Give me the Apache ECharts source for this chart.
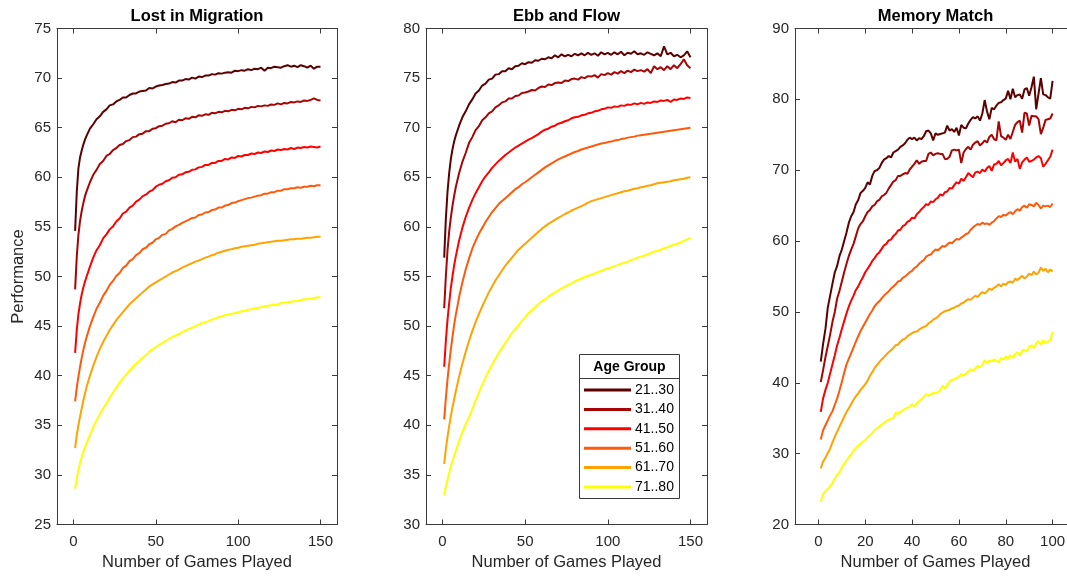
<!DOCTYPE html>
<html><head><meta charset="utf-8">
<script src="https://cdn.jsdelivr.net/npm/echarts@6/dist/echarts.min.js"></script>
<style>html,body{margin:0;padding:0;background:#fff}#c{width:1067px;height:576px}</style>
</head><body><div id="c"></div>
<script>
const ageGroups = ['21..30','31..40','41..50','51..60','61..70','71..80'];
const titles = ['Lost in Migration','Ebb and Flow','Memory Match'];
const xTickLong = [0,50,100,150];
const xTickShort = [0,20,40,60,80,100];

const gamesLong = [1,2,3,4,5,6,7,8,10,12,14,16,18,20,22,24,26,28,30,32,34,36,38,40,42,44,46,48,50,
52,54,56,58,60,62,64,66,68,70,72,74,76,78,80,82,84,86,88,90,92,94,96,98,100,102,104,106,108,110,
112,114,116,118,120,122,124,126,128,130,132,134,136,138,140,142,144,146,148,150];
const gamesShort = [1,2,3,4,5,6,7,8,9,10,11,12,13,14,15,16,17,18,19,20,21,22,23,24,25,26,27,28,29,30,
31,32,33,34,35,36,37,38,39,40,41,42,43,44,45,46,47,48,49,50,51,52,53,54,55,56,57,58,59,60,
61,62,63,64,65,66,67,68,69,70,71,72,73,74,75,76,77,78,79,80,81,82,83,84,85,86,87,88,89,90,
91,92,93,94,95,96,97,98,99,100];

// Lost in Migration
const lim2130 = [54.6,58.5,60.9,62.0,62.7,63.3,63.8,64.2,
64.9,65.35,65.85,66.15,66.6,66.85,67.25,67.35,67.65,67.8,68.05,68.05,68.3,68.45,68.45,68.65,68.7,68.75,69.0,68.95,69.15,
69.25,69.3,69.4,69.45,69.6,69.55,69.75,69.75,69.9,69.85,
70.05,69.95,70.15,70.1,70.25,70.25,70.4,70.35,70.5,70.45,
70.55,70.6,70.55,70.75,70.7,70.8,70.75,70.9,70.8,70.95,
70.9,71.05,70.75,71.05,71.0,71.15,71.1,71.05,71.2,71.3,
71.15,71.25,71.1,71.3,71.2,71.05,71.25,70.95,71.15,71.15];
const lim3140 = [48.7,52.0,54.2,55.6,56.6,57.4,58.1,58.6,
59.5,60.25,60.75,61.35,61.65,62.15,62.35,62.75,62.95,63.25,63.35,63.65,63.75,64.05,64.1,64.35,64.4,64.65,64.65,64.9,64.95,
65.15,65.2,65.4,65.45,65.65,65.55,65.8,65.75,65.95,65.9,
66.1,66.05,66.25,66.2,66.35,66.3,66.5,66.45,66.6,66.55,
66.7,66.65,66.8,66.75,66.9,66.85,67.0,66.95,67.1,67.05,
67.2,67.15,67.25,67.2,67.35,67.3,67.45,67.35,67.5,67.45,
67.6,67.55,67.65,67.6,67.75,67.7,67.8,67.95,67.8,67.75];
const lim4150 = [42.3,44.6,46.2,47.3,48.2,48.9,49.5,50.0,
51.0,51.9,52.65,53.15,53.85,54.25,54.75,55.05,55.55,55.85,56.35,56.55,56.95,57.15,57.55,57.75,58.1,58.25,58.55,58.7,59.05,
59.25,59.35,59.6,59.7,59.95,60.0,60.25,60.3,60.5,60.55,
60.75,60.8,61.0,61.05,61.25,61.25,61.45,61.45,61.65,61.65,
61.85,61.8,62.0,61.95,62.15,62.1,62.25,62.25,62.4,62.35,
62.5,62.45,62.6,62.55,62.7,62.65,62.8,62.75,62.85,62.8,
62.95,62.85,63.0,62.95,63.05,63.0,63.1,63.05,63.0,63.1];
const lim5160 = [37.4,38.8,39.9,40.9,41.8,42.6,43.3,43.9,
45.0,45.9,46.75,47.35,48.05,48.55,49.15,49.55,50.05,50.35,50.85,51.1,51.55,51.75,52.15,52.35,52.75,52.9,53.25,53.4,53.75,
53.9,54.2,54.3,54.65,54.8,55.05,55.2,55.4,55.55,55.7,
55.9,55.95,56.2,56.25,56.45,56.5,56.7,56.75,56.95,56.95,
57.15,57.2,57.4,57.45,57.6,57.7,57.8,57.9,57.95,58.05,
58.15,58.2,58.35,58.35,58.5,58.5,58.65,58.65,58.8,58.8,
58.9,58.9,59.0,58.95,59.05,59.05,59.15,59.1,59.2,59.2];
const lim6170 = [32.7,34.0,35.0,35.9,36.7,37.5,38.2,38.9,
40.0,41.0,41.9,42.7,43.4,44.0,44.6,45.1,45.6,46.0,46.4,46.8,47.2,47.5,47.8,48.1,48.4,48.7,49.0,49.2,49.4,
49.6,49.8,50.0,50.2,50.4,50.55,50.7,50.9,51.05,51.2,
51.35,51.5,51.6,51.75,51.9,52.0,52.15,52.25,52.4,52.5,
52.6,52.7,52.75,52.85,52.9,53.0,53.05,53.1,53.15,53.2,
53.3,53.35,53.4,53.45,53.5,53.55,53.6,53.6,53.65,53.7,
53.75,53.75,53.8,53.8,53.85,53.9,53.9,53.95,54.0,54.0];
const lim7180 = [28.6,29.6,30.5,31.2,31.8,32.3,32.8,33.2,
34.0,34.8,35.5,36.1,36.7,37.2,37.8,38.3,38.8,39.3,39.7,40.1,40.5,40.85,41.2,41.5,41.8,42.1,42.4,42.65,42.9,
43.1,43.3,43.5,43.7,43.9,44.05,44.2,44.4,44.55,44.7,
44.85,45.0,45.15,45.3,45.4,45.5,45.65,45.75,45.9,46.0,
46.1,46.15,46.25,46.3,46.4,46.5,46.55,46.65,46.7,46.8,
46.85,46.9,47.0,47.05,47.1,47.15,47.2,47.3,47.35,47.4,
47.45,47.5,47.55,47.6,47.7,47.7,47.75,47.8,47.9,47.9];

// Ebb and Flow
const ef2130 = [56.9,60.8,63.5,65.4,66.8,67.8,68.6,69.2,
70.2,71.05,71.65,72.35,72.85,73.45,73.75,74.25,74.45,74.85,74.95,75.35,75.4,75.7,75.7,76.0,75.9,76.2,76.25,76.5,76.4,
76.6,76.55,76.8,76.75,76.95,76.9,77.1,77.0,77.3,77.1,
77.4,77.2,77.35,77.2,77.45,77.3,77.5,77.3,77.55,77.35,
77.5,77.25,77.6,77.4,77.55,77.35,77.6,77.4,77.65,77.3,
77.55,77.45,77.7,77.4,77.5,77.35,77.6,77.45,77.3,77.5,
77.2,78.2,77.4,77.55,77.2,77.35,77.1,77.3,77.7,77.1];
const ef3140 = [51.8,55.0,57.6,59.5,60.9,62.1,63.1,64.0,
65.4,66.55,67.45,68.45,69.05,69.75,70.15,70.75,71.05,71.45,71.65,72.05,72.25,72.55,72.65,72.95,72.95,73.2,73.25,73.5,73.55,
73.65,73.8,73.75,74.0,74.15,74.1,74.35,74.3,74.5,74.55,
74.5,74.75,74.7,74.9,74.95,74.85,75.1,75.0,75.2,75.15,
75.3,75.05,75.4,75.3,75.5,75.35,75.6,75.45,75.7,75.5,
75.75,75.6,75.85,75.7,75.8,75.65,75.9,75.5,76.2,75.9,
76.1,75.8,76.2,75.9,76.3,76.0,76.4,76.9,76.3,76.0];
const ef4150 = [45.9,48.5,50.6,52.3,53.8,55.0,56.1,57.0,
58.6,59.9,61.0,61.9,62.7,63.4,64.0,64.6,65.1,65.5,65.95,66.3,66.65,66.95,67.25,67.5,67.75,68.0,68.2,68.4,68.6,
68.8,68.95,69.15,69.35,69.6,69.8,69.9,70.1,70.2,70.4,
70.5,70.65,70.75,70.95,71.05,71.1,71.25,71.3,71.45,71.5,
71.65,71.7,71.85,71.9,72.05,72.0,72.15,72.1,72.25,72.2,
72.35,72.3,72.45,72.35,72.5,72.4,72.55,72.5,72.65,72.6,
72.75,72.7,72.8,72.6,72.85,72.8,72.95,72.9,73.05,73.0];
const ef5160 = [40.6,42.7,44.6,46.2,47.6,48.9,50.1,51.1,
52.9,54.4,55.7,56.8,57.8,58.6,59.3,59.9,60.5,61.0,61.5,61.9,62.3,62.6,62.9,63.2,63.5,63.8,64.0,64.3,64.5,
64.75,65.0,65.25,65.5,65.75,66.0,66.2,66.4,66.6,66.8,
66.95,67.1,67.25,67.4,67.55,67.65,67.8,67.9,68.0,68.1,
68.2,68.3,68.4,68.45,68.55,68.6,68.7,68.75,68.85,68.9,
69.0,69.05,69.1,69.2,69.25,69.3,69.35,69.4,69.45,69.5,
69.55,69.6,69.65,69.7,69.75,69.8,69.85,69.9,69.95,70.0];
const ef6170 = [36.1,37.6,38.8,39.9,40.9,41.8,42.6,43.4,
44.9,46.2,47.4,48.5,49.5,50.4,51.2,52.0,52.7,53.4,54.0,54.6,55.1,55.6,56.1,56.5,56.9,57.3,57.7,58.0,58.3,
58.6,58.9,59.2,59.5,59.8,60.05,60.3,60.5,60.7,60.9,
61.1,61.3,61.45,61.65,61.8,61.95,62.1,62.25,62.45,62.6,
62.7,62.8,62.9,63.0,63.1,63.2,63.3,63.4,63.5,63.6,
63.65,63.75,63.85,63.9,64.0,64.05,64.15,64.2,64.3,64.4,
64.45,64.5,64.55,64.6,64.7,64.75,64.8,64.85,64.95,65.0];
const ef7180 = [33.0,33.8,34.5,35.2,35.8,36.4,36.9,37.4,
38.4,39.3,40.1,40.8,41.6,42.5,43.3,44.1,44.8,45.5,46.1,46.7,47.3,47.8,48.3,48.8,49.3,49.7,50.1,50.5,50.9,
51.3,51.6,51.9,52.2,52.5,52.7,52.95,53.2,53.4,53.6,
53.8,53.95,54.15,54.3,54.5,54.65,54.8,54.95,55.05,55.2,
55.3,55.45,55.55,55.7,55.8,55.9,56.05,56.15,56.3,56.4,
56.5,56.65,56.75,56.9,57.0,57.1,57.25,57.35,57.5,57.6,
57.7,57.85,57.95,58.1,58.2,58.3,58.45,58.6,58.75,58.9];

// Memory Match
const mm2130 = [43.0,45.5,47.6,50.6,52.3,54.0,55.6,56.5,57.9,58.8,
60.0,61.2,62.6,63.5,64.1,65.2,65.8,66.8,67.1,67.5,
68.3,68.0,69.2,69.9,70.0,70.3,71.0,71.5,71.7,72.0,
71.8,72.5,72.7,72.9,73.3,73.5,73.8,74.3,74.6,74.4,
74.6,74.2,74.5,74.4,74.8,75.5,75.6,75.2,74.2,75.2,
75.0,75.1,75.2,75.3,76.3,75.6,75.8,75.4,76.0,74.9,
76.4,76.0,75.9,76.6,77.1,77.5,77.3,77.6,77.0,78.0,
79.9,78.3,77.2,78.8,78.6,79.1,79.5,79.6,79.9,80.1,
81.2,80.0,81.5,80.3,80.6,80.7,80.1,81.4,81.6,80.5,
81.7,83.2,78.6,80.8,83.0,80.7,80.6,80.3,80.1,82.6];
const mm3140 = [40.1,41.8,43.6,45.2,46.8,48.6,50.0,51.9,53.0,54.3,
55.6,56.8,57.9,58.8,59.6,60.7,61.8,62.4,62.8,63.5,
64.1,64.4,64.9,65.1,65.6,65.8,66.3,66.5,66.8,67.4,
67.9,68.4,68.6,69.2,69.2,69.4,69.6,69.5,70.1,70.5,
70.9,71.4,70.9,71.2,71.3,71.3,72.3,72.5,72.1,72.3,
72.4,72.3,72.3,71.6,71.6,71.9,72.8,72.9,72.8,72.9,
71.0,72.5,73.0,73.3,72.9,73.6,73.9,74.1,73.5,73.8,
74.2,73.9,74.7,75.0,74.4,74.2,76.9,74.8,74.6,74.3,
75.0,74.4,75.4,76.4,76.8,77.0,75.3,78.1,78.0,76.3,
77.7,77.6,77.6,77.2,75.1,76.0,77.1,77.2,77.3,78.0];
const mm4150 = [35.9,37.8,39.0,40.0,41.3,42.6,43.9,45.3,46.4,47.6,
48.7,49.8,50.8,51.6,52.3,53.1,53.6,54.3,54.9,55.6,
56.1,56.6,57.2,57.6,58.1,58.4,58.9,59.4,59.6,60.1,
60.2,60.7,61.0,61.5,61.6,62.1,62.3,62.7,62.9,63.3,
63.2,63.8,64.1,64.5,64.8,65.2,65.1,65.6,65.5,65.9,
66.1,66.6,66.4,66.9,67.0,67.5,67.4,67.9,68.3,68.1,
68.8,68.5,69.0,69.6,69.3,69.0,69.7,69.8,69.6,70.1,
69.8,70.3,70.6,69.9,70.8,70.9,71.3,70.7,71.0,71.4,
71.6,71.0,72.5,71.2,71.6,70.2,71.1,71.5,71.8,71.2,
71.3,71.5,71.8,72.0,71.7,70.5,70.9,71.4,71.9,72.9];
const mm5160 = [32.0,33.3,34.0,34.7,35.4,36.0,36.9,37.8,38.9,40.1,
41.4,42.6,43.4,44.2,45.0,45.8,46.6,47.3,47.9,48.5,
49.1,49.7,50.2,50.8,51.2,51.5,51.9,52.3,52.6,52.9,
53.3,53.6,53.9,54.3,54.4,54.8,55.0,55.3,55.6,55.8,
56.2,56.4,56.8,57.1,57.3,57.8,58.0,58.1,58.5,58.8,
58.7,59.0,59.3,59.2,59.5,59.8,59.7,60.0,60.3,60.2,
60.5,60.7,61.0,61.1,61.6,61.9,62.2,62.4,62.3,62.6,
62.4,62.5,62.3,62.6,62.8,63.2,63.5,63.4,63.7,63.6,
63.9,64.1,63.8,64.2,64.5,64.3,64.8,65.0,64.7,65.2,
65.1,64.9,65.4,65.1,64.6,65.0,64.9,65.0,64.8,65.3];
const mm6170 = [27.9,28.9,29.4,30.1,30.7,31.6,32.4,33.1,33.8,34.5,
35.2,35.9,36.4,37.0,37.6,38.1,38.5,39.0,39.4,39.8,
40.3,41.0,41.5,42.1,42.5,42.9,43.3,43.6,44.0,44.3,
44.6,44.9,45.3,45.4,45.8,46.1,46.2,46.6,46.8,47.0,
47.2,47.2,47.5,47.7,47.9,48.0,48.4,48.6,48.9,49.1,
49.3,49.7,49.9,50.1,50.2,50.3,50.5,50.6,50.8,50.9,
51.2,51.3,51.6,51.8,51.7,52.0,52.3,52.1,52.5,52.8,
52.6,52.9,53.3,53.1,53.4,53.6,53.9,53.6,54.0,53.8,
54.2,54.3,54.1,54.7,54.5,54.8,55.1,54.7,55.0,55.4,
55.2,55.7,55.3,55.5,56.3,55.8,56.1,55.6,56.0,55.7];
const mm7180 = [23.2,24.3,24.7,25.0,25.4,25.9,26.5,27.0,27.4,28.0,
28.6,29.0,29.5,29.9,30.4,30.8,31.1,31.4,31.7,31.9,
32.3,32.6,32.9,33.3,33.6,33.8,34.1,34.3,34.6,34.8,
34.9,35.0,35.8,35.6,35.9,36.1,36.3,36.5,36.6,37.0,
36.6,37.1,37.4,37.7,38.0,38.4,38.2,38.3,38.6,38.5,
38.7,38.9,39.6,39.2,39.7,40.2,40.4,40.5,40.7,40.8,
41.2,41.0,41.3,41.6,41.9,41.7,42.0,42.4,42.2,42.5,
43.2,42.8,43.1,43.0,43.3,43.1,42.9,43.5,43.3,43.7,
43.4,43.9,43.5,44.1,44.3,43.9,44.5,44.7,44.4,45.1,
45.3,44.9,45.6,45.9,45.4,46.0,45.6,45.8,46.0,47.2];

// ---------- chart ----------
const colors = ['#5c0000','#a80404','#ff0000','#ff5a0a','#ffa300','#ffff00'];
const FF = '"Liberation Sans", Arial, Helvetica, sans-serif';
const AX = '#3a3a3a';
const TXT = '#262626';

const panels = [
  {games: gamesLong, data: [lim2130,lim3140,lim4150,lim5160,lim6170,lim7180], xr:[-10,160], xt: xTickLong, yr:[25,75], ys:5},
  {games: gamesLong, data: [ef2130,ef3140,ef4150,ef5160,ef6170,ef7180], xr:[-10,160], xt: xTickLong, yr:[30,80], ys:5},
  {games: gamesShort, data: [mm2130,mm3140,mm4150,mm5160,mm6170,mm7180], xr:[-10,110], xt: xTickShort, yr:[20,90], ys:10}
];
const layout = [{left:57,width:280},{left:426,width:281},{left:795,width:281}];
const TOP = 28.5, H = 496;

const grid=[], xAxis=[], yAxis=[], series=[], title=[];
panels.forEach((p,i)=>{
  grid.push({left:layout[i].left, top:TOP, width:layout[i].width, height:H, outerBoundsMode:'none', containLabel:false});
  title.push({text:titles[i], left:layout[i].left+layout[i].width/2, top:8, textAlign:'center', padding:0,
    textStyle:{fontSize:16.5, fontWeight:'bold', color:'#000', fontFamily:FF}});
  [true,false].forEach(bottom=>{
    xAxis.push({type:'value', gridIndex:i, position: bottom?'bottom':'top', min:p.xr[0], max:p.xr[1],
      axisLine:{show:true, onZero:false, lineStyle:{color:AX, width:1}},
      axisTick:{show:true, inside:true, length:5, customValues:p.xt, lineStyle:{color:AX, width:1}},
      axisLabel:{show:bottom, customValues:p.xt, margin:10, fontSize:15, color:TXT, fontFamily:FF},
      splitLine:{show:false},
      name: bottom?'Number of Games Played':'', nameLocation:'middle', nameGap:29,
      nameTextStyle:{fontSize:16.5, color:TXT, fontFamily:FF}});
    yAxis.push({type:'value', gridIndex:i, position: bottom?'left':'right', min:p.yr[0], max:p.yr[1], interval:p.ys,
      axisLine:{show:true, onZero:false, lineStyle:{color:AX, width:1}},
      axisTick:{show:true, inside:true, length:5, lineStyle:{color:AX, width:1}},
      axisLabel:{show:bottom, margin:6, fontSize:15, color:TXT, fontFamily:FF},
      splitLine:{show:false},
      name: (bottom && i===0)?'Performance':'', nameLocation:'middle', nameGap:30,
      nameTextStyle:{fontSize:16.5, color:TXT, fontFamily:FF}});
  });
  p.data.forEach((arr,k)=>{
    series.push({type:'line', name:ageGroups[k], xAxisIndex:i*2, yAxisIndex:i*2,
      data: p.games.map((g,j)=>[g, arr[j]]), symbol:'none', showSymbol:false,
      lineStyle:{color:colors[k], width:2}, itemStyle:{color:colors[k]}, z:2});
  });
});

const chart = echarts.init(document.getElementById('c'), null, {renderer:'canvas'});
chart.setOption({
  animation:false,
  backgroundColor:'#fff',
  title, grid, xAxis, yAxis, series,
  legend:{orient:'vertical', left:584, top:383, itemWidth:47, itemHeight:3, itemGap:5.4, icon:'rect',
    padding:0, selectedMode:false, data:ageGroups,
    textStyle:{fontSize:14, color:'#000', fontFamily:FF, lineHeight:14, padding:[0,0,0,-1]}},
  graphic:[
    {type:'rect', z:3, shape:{x:579.5, y:354.5, width:100, height:144}, style:{fill:'#fff', stroke:AX, lineWidth:1}},
    {type:'line', z:3, shape:{x1:579.5, y1:378.5, x2:679.5, y2:378.5}, style:{stroke:AX, lineWidth:1}},
    {type:'text', z:5, x:629.5, y:367, style:{text:'Age Group', fontSize:14, fontWeight:'bold', fontFamily:FF, fill:'#000', align:'center', verticalAlign:'middle'}}
  ]
});
</script>
</body></html>
